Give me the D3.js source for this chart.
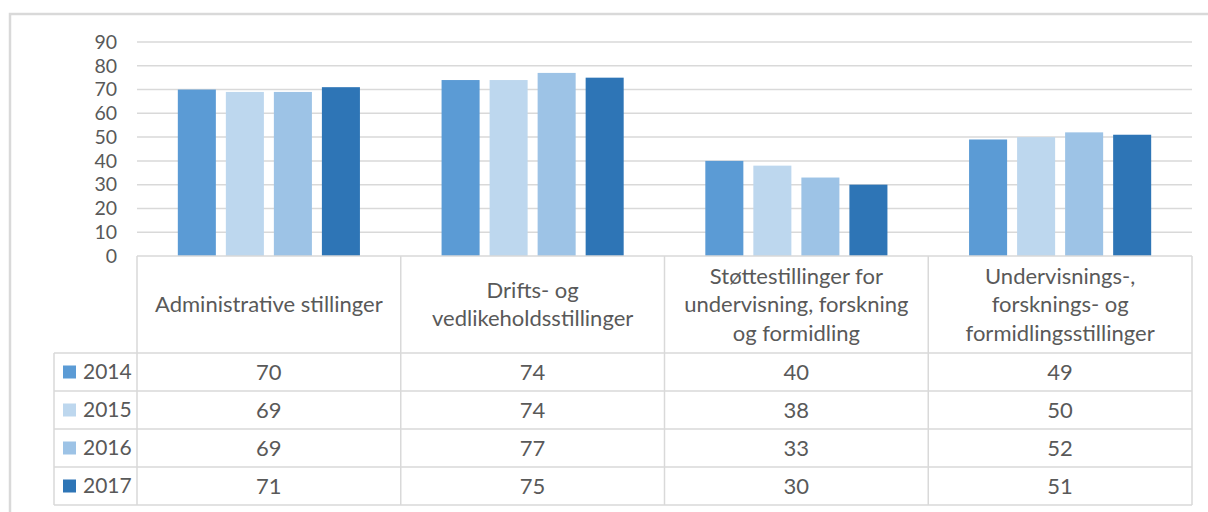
<!DOCTYPE html>
<meta charset="utf-8">
<style>
body { margin: 0; background: #fff; }
text { font-family: Lato, "Open Sans", sans-serif; fill: #595959; }
</style>
<body>
<div id="chart"></div>
<script src="https://d3js.org/d3.v7.min.js"></script>
<script>

// data
var categories = [
  ["Administrative stillinger"],
  ["Drifts- og", "vedlikeholdsstillinger"],
  ["Støttestillinger for", "undervisning, forskning", "og formidling"],
  ["Undervisnings-,", "forsknings- og", "formidlingsstillinger"]
];
var years = ["2014", "2015", "2016", "2017"];
var v2014 = [70, 74, 40, 49];
var v2015 = [69, 74, 38, 50];
var v2016 = [69, 77, 33, 52];
var v2017 = [71, 75, 30, 51];
var yTicks = [0, 10, 20, 30, 40, 50, 60, 70, 80, 90];

var series = [v2014, v2015, v2016, v2017];
var colors = ["#5b9bd5", "#bdd7ee", "#9dc3e6", "#2e75b6"];

var width = 1208, height = 512;
var plot = {left: 137, right: 1192, top: 42, bottom: 256};
var tableBottom = 505, headerBottom = 353, legendLeft = 54;
var fontSize = 22;

var svg = d3.select("#chart").append("svg")
    .attr("width", width)
    .attr("height", height);

// outer frame
svg.append("rect")
    .attr("x", 10).attr("y", 14)
    .attr("width", width + 20).attr("height", height + 20)
    .style("fill", "none")
    .style("stroke", "#d9d9d9")
    .style("stroke-width", 2.5);

// scales
var catIdx = d3.range(categories.length);
var x0 = d3.scaleBand().domain(catIdx).range([plot.left, plot.right]);
var x1 = d3.scaleBand().domain(years).range([0, x0.bandwidth()])
    .paddingInner(0.208).paddingOuter(0.85);
var y = d3.scaleLinear().domain([0, 90]).range([plot.bottom, plot.top]);
var rowY = d3.scaleBand().domain(years).range([headerBottom, tableBottom]);

// gridlines
svg.append("g").selectAll("line")
    .data(yTicks.filter(function(d) { return d > 0; }))
  .enter().append("line")
    .attr("x1", plot.left).attr("x2", plot.right)
    .attr("y1", function(d) { return y(d); })
    .attr("y2", function(d) { return y(d); })
    .style("stroke", "#d9d9d9")
    .style("stroke-width", 1.5);

// y axis labels
var yAxis = d3.axisLeft(y).tickValues(yTicks).tickSize(0).tickPadding(0);
var gy = svg.append("g")
    .attr("transform", "translate(117,0)")
    .call(yAxis);
gy.select(".domain").remove();
gy.selectAll("text")
    .attr("font-size", 19.5)
    .style("font-family", "Lato, 'Open Sans', sans-serif")
    .attr("fill", "#595959");

// bars
years.forEach(function(yr, i) {
  svg.append("g").selectAll("rect")
      .data(series[i])
    .enter().append("rect")
      .attr("x", function(d, j) { return x0(j) + x1(yr); })
      .attr("width", x1.bandwidth())
      .attr("y", function(d) { return y(d); })
      .attr("height", function(d) { return y(0) - y(d); })
      .style("fill", colors[i]);
});

// data table lines
var grid = svg.append("g")
    .style("stroke", "#d9d9d9")
    .style("stroke-width", 1.5);
grid.append("line")
    .attr("x1", plot.left).attr("x2", plot.right)
    .attr("y1", plot.bottom).attr("y2", plot.bottom);
years.forEach(function(yr) {
  grid.append("line")
      .attr("x1", legendLeft).attr("x2", plot.right)
      .attr("y1", rowY(yr)).attr("y2", rowY(yr));
});
grid.append("line")
    .attr("x1", legendLeft).attr("x2", plot.right)
    .attr("y1", tableBottom).attr("y2", tableBottom);
grid.append("line")
    .attr("x1", legendLeft).attr("x2", legendLeft)
    .attr("y1", headerBottom).attr("y2", tableBottom);
catIdx.concat([categories.length]).forEach(function(j) {
  var xx = j < categories.length ? x0(j) : plot.right;
  grid.append("line")
      .attr("x1", xx).attr("x2", xx)
      .attr("y1", plot.bottom).attr("y2", tableBottom);
});

// category headers
var lineH = 28.5;
var headMid = (plot.bottom + headerBottom) / 2;
categories.forEach(function(lines, j) {
  var t = svg.append("text")
      .attr("text-anchor", "middle")
      .attr("font-size", fontSize);
  lines.forEach(function(l, k) {
    t.append("tspan")
        .attr("x", x0(j) + x0.bandwidth() / 2)
        .attr("y", headMid + (k - (lines.length - 1) / 2) * lineH)
        .attr("dy", "0.35em")
        .text(l);
  });
});

// legend column and values
years.forEach(function(yr, i) {
  var cy = rowY(yr) + rowY.bandwidth() / 2;
  svg.append("rect")
      .attr("x", 63).attr("y", cy - 6.5)
      .attr("width", 13).attr("height", 13)
      .style("fill", colors[i]);
  svg.append("text")
      .attr("x", 83).attr("y", cy)
      .attr("dy", "0.35em")
      .attr("font-size", 21)
      .text(yr);
  svg.append("g").selectAll("text")
      .data(series[i])
    .enter().append("text")
      .attr("x", function(d, j) { return x0(j) + x0.bandwidth() / 2; })
      .attr("y", cy)
      .attr("dy", "0.35em")
      .attr("text-anchor", "middle")
      .attr("font-size", fontSize)
      .text(function(d) { return d; });
});

</script>
</body>
